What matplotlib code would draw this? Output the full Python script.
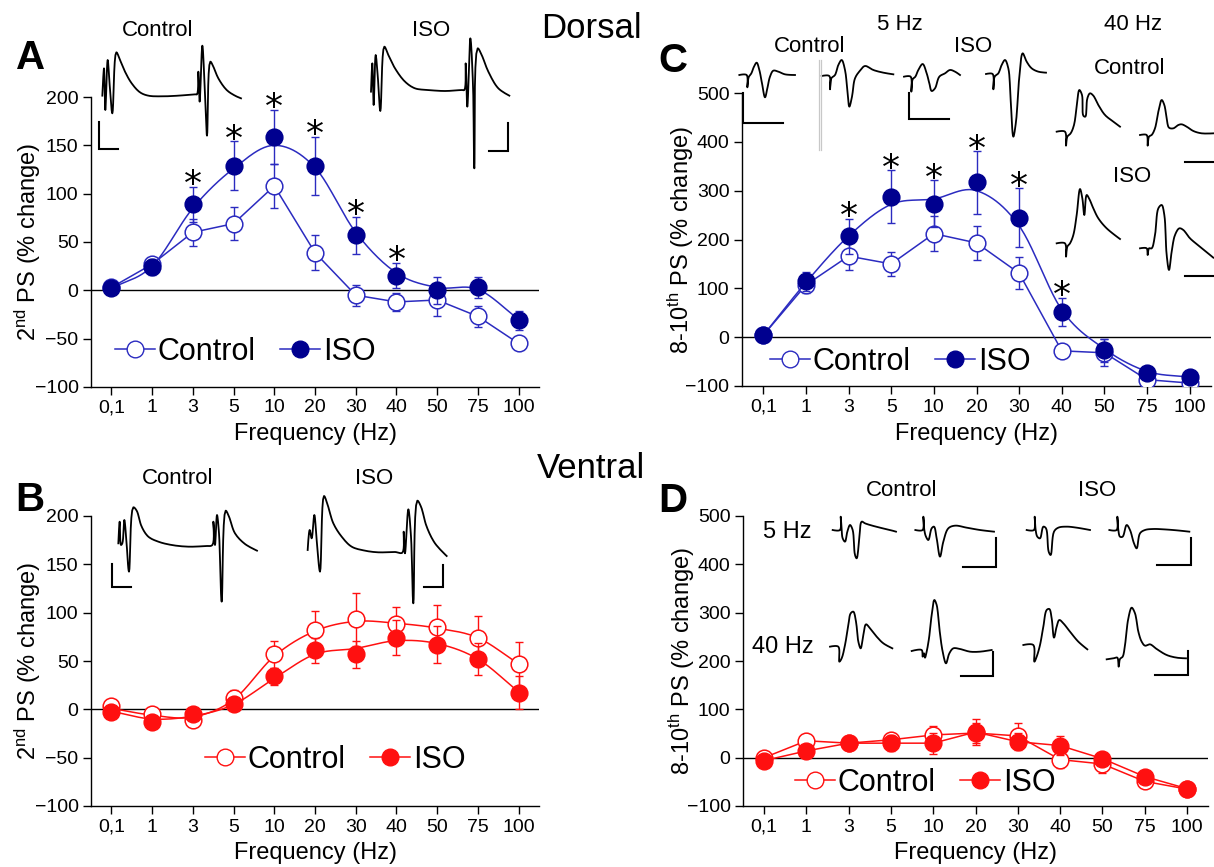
import numpy as np
import matplotlib
matplotlib.use("Agg")
import matplotlib.pyplot as plt
from matplotlib.lines import Line2D

plt.rcParams['font.family'] = ['Liberation Sans', 'DejaVu Sans']
plt.rcParams['mathtext.fontset'] = 'custom'
plt.rcParams['mathtext.rm'] = 'Liberation Sans'
plt.rcParams['mathtext.it'] = 'Liberation Sans'

W, H = 1214, 867

# ---------------- data ----------------
freq_labels = ['0,1', '1', '3', '5', '10', '20', '30', '40', '50', '75', '100']

# Panel A (Dorsal, 2nd PS)
a_ctrl = [3, 27, 60, 69, 108, 39, -5, -12, -10, -27, -55]
a_ctrl_err = [4, 6, 14, 17, 23, 18, 11, 9, 17, 11, 6]
a_iso = [2, 24, 89, 129, 159, 129, 57, 15, 0, 3, -31]
a_iso_err = [4, 8, 18, 25, 28, 30, 19, 13, 14, 11, 10]
a_iso_fit = [2, 25, 85, 126, 150, 127, 60, 18, 3, 1, -30]
a_stars = [2, 3, 4, 5, 6, 7]

# Panel B (Ventral, 2nd PS)
b_ctrl = [3, -5, -11, 12, 57, 82, 93, 88, 85, 74, 47]
b_ctrl_err = [5, 5, 5, 8, 14, 20, 27, 18, 23, 23, 23]
b_ctrl_fit = [1, -6, -8, 10, 55, 81, 91, 89, 84, 74, 47]
b_iso = [-3, -13, -5, 5, 34, 61, 57, 74, 67, 52, 17]
b_iso_err = [4, 4, 5, 4, 9, 13, 14, 18, 19, 17, 17]
b_iso_fit = [-2, -10, -7, 5, 32, 57, 63, 71, 68, 52, 18]

# Panel C (Dorsal, 8-10th PS)
c_ctrl = [4, 107, 166, 150, 212, 193, 131, -28, -32, -87, -94]
c_ctrl_err = [5, 17, 28, 24, 36, 34, 33, 6, 28, 8, 6]
c_iso = [4, 114, 207, 288, 273, 317, 245, 52, -27, -73, -82]
c_iso_err = [5, 20, 36, 54, 48, 64, 60, 29, 23, 8, 6]
c_iso_fit = [4, 112, 207, 272, 283, 300, 228, 56, -24, -70, -82]
c_stars = [2, 3, 4, 5, 6, 7]

# Panel D (Ventral, 8-10th PS)
d_ctrl = [0, 35, 30, 37, 47, 51, 45, -4, -13, -49, -65]
d_ctrl_err = [4, 8, 5, 14, 18, 20, 26, 18, 19, 8, 4]
d_iso = [-6, 14, 30, 30, 30, 53, 33, 25, -2, -39, -64]
d_iso_err = [4, 6, 5, 16, 22, 27, 18, 19, 6, 6, 4]

# ---------------- example traces (local zoom units, 1/3 px) ----------------
tr_a_ctrl = [(22,182),(27,100),(31,225),(38,75),(44,150),(52,235),(64,52),(75,75),(90,110),(110,145),(135,172),(160,182),(200,184),(250,182),(300,178),(306,178),(310,110),(314,200),(322,32),(330,180),(336,302),(346,80),(355,95),(370,130),(395,165),(420,182),(438,190)]
tr_a_iso = [(828,170),(832,85),(836,210),(842,60),(848,120),(856,228),(868,35),(880,60),(900,100),(930,140),(960,160),(1000,165),(1050,168),(1100,165),(1108,165),(1112,85),(1117,215),(1126,10),(1134,150),(1138,400),(1148,40),(1160,60),(1180,110),(1210,160),(1243,182)]
tr_b_ctrl = [(40,160),(44,95),(48,165),(52,160),(58,90),(64,150),(72,245),(85,52),(95,62),(110,110),(130,140),(160,155),(200,165),(250,170),(300,168),(322,165),(325,95),(330,165),(336,75),(342,130),(350,335),(362,62),(372,80),(390,130),(420,162),(456,182)]
tr_b_iso = [(608,180),(614,120),(620,145),(628,75),(635,150),(645,245),(657,18),(668,45),(685,100),(710,140),(740,170),(780,182),(820,187),(870,186),(892,188),(896,125),(900,190),(910,58),(918,140),(925,340),(937,32),(948,50),(965,110),(990,160),(1025,198)]
tr_c5_1 = [(28,75),(50,75),(52,112),(56,82),(64,70),(72,50),(80,38),(88,60),(96,100),(105,142),(112,115),(120,80),(130,62),(145,65),(165,73),(195,75)]
tr_c5_2 = [(275,78),(298,78),(300,118),(304,85),(315,75),(325,45),(335,30),(345,60),(352,120),(358,170),(366,140),(375,85),(390,62),(405,48),(430,60),(460,68),(490,73)]
tr_c5_3 = [(522,80),(542,80),(544,125),(548,88),(556,80),(565,60),(578,42),(590,70),(598,100),(605,123),(615,115),(628,80),(645,70),(660,60),(675,65),(690,75)]
tr_c5_4 = [(768,72),(788,72),(790,118),(794,80),(805,70),(815,45),(825,30),(835,55),(842,150),(850,260),(858,215),(868,80),(878,10),(890,35),(905,55),(925,65),(948,68)]
tr_c40_1 = [(20,170),(45,170),(48,212),(52,185),(62,175),(72,150),(80,95),(88,45),(96,60),(100,122),(106,125),(112,70),(120,55),(130,62),(145,90),(165,120),(190,140),(210,155)]
tr_c40_2 = [(270,180),(290,180),(293,212),(297,185),(305,180),(315,160),(325,110),(335,75),(343,90),(350,130),(357,158),(370,160),(385,150),(395,148),(410,155),(430,168),(455,175),(490,175)]
tr_c40_3 = [(20,505),(45,505),(48,545),(52,515),(60,505),(70,480),(80,420),(90,342),(97,370),(103,420),(110,360),(118,372),(130,400),(145,430),(170,460),(210,492)]
tr_c40_4 = [(270,520),(290,520),(293,540),(297,520),(305,520),(315,480),(325,400),(335,390),(343,420),(350,540),(357,585),(365,530),(375,480),(388,460),(400,465),(420,490),(450,515),(490,548)]
tr_d5_1 = [(8,75),(30,75),(32,35),(35,75),(38,100),(45,110),(52,80),(60,60),(68,75),(75,150),(80,160),(88,100),(95,50),(105,55),(120,60),(150,68),(180,75),(198,80)]
tr_d5_2 = [(256,75),(278,75),(280,35),(283,75),(288,95),(295,105),(305,70),(312,65),(320,100),(330,155),(340,110),(355,70),(375,62),(410,68),(450,75),(492,80)]
tr_d5_3 = [(590,75),(612,75),(614,35),(617,75),(622,95),(630,100),(640,65),(648,70),(656,140),(662,150),(672,80),(685,68),(710,65),(740,68),(780,75)]
tr_d5_4 = [(838,75),(860,75),(862,35),(865,75),(870,95),(878,95),(890,60),(900,75),(912,115),(920,130),(930,85),(945,75),(970,72),(1000,73),(1040,76),(1078,80)]
tr_d40_1 = [(0,425),(25,425),(28,470),(35,460),(45,420),(55,360),(62,325),(70,320),(78,350),(85,410),(92,430),(100,390),(108,358),(120,370),(140,395),(160,415),(187,430)]
tr_d40_2 = [(245,438),(275,435),(278,455),(282,445),(285,458),(290,440),(297,400),(305,330),(313,285),(320,300),(328,370),(338,440),(348,475),(358,445),(370,430),(390,432),(420,440),(450,440),(485,435)]
tr_d40_3 = [(580,420),(610,420),(613,470),(620,455),(630,420),(640,365),(650,315),(658,312),(665,340),(672,398),(680,365),(688,345),(700,355),(720,380),(745,410),(772,433)]
tr_d40_4 = [(830,463),(850,460),(862,458),(866,485),(870,462),(878,455),(885,420),(895,340),(905,308),(915,325),(925,380),(935,410),(945,422),(960,418),(980,432),(1010,450),(1040,458),(1068,460)]

# ---------------- styles ----------------
BLUE_LINE = '#2b2bc0'
BLUE_FILL = '#00008f'
RED = '#ff1010'

TICK_FS = 14
LABEL_FS = 17

fig = plt.figure(figsize=(W / 100, H / 100), dpi=100)

ov = fig.add_axes([0, 0, 1, 1], zorder=0)
ov.set_xlim(0, W)
ov.set_ylim(H, 0)
ov.axis('off')


def px_axes(l, t, r, b):
    ax = fig.add_axes([l / W, 1 - b / H, (r - l) / W, (b - t) / H], zorder=2)
    ax.patch.set_alpha(0)
    return ax


def smooth(vals, n=24):
    y = np.asarray(vals, float)
    x = np.arange(len(y), dtype=float)
    m = np.gradient(y)
    xs, ys = [], []
    for i in range(len(y) - 1):
        t = np.linspace(0, 1, n, endpoint=False)
        h00 = 2 * t**3 - 3 * t**2 + 1
        h10 = t**3 - 2 * t**2 + t
        h01 = -2 * t**3 + 3 * t**2
        h11 = t**3 - t**2
        ys.append(h00 * y[i] + h10 * m[i] + h01 * y[i + 1] + h11 * m[i + 1])
        xs.append(x[i] + t)
    xs.append([x[-1]])
    ys.append([y[-1]])
    return np.concatenate(xs), np.concatenate(ys)


def catmull(pts, n=8):
    """Centripetal Catmull-Rom through the trace points (rendering only)."""
    p = np.asarray(pts, float)
    p = np.vstack([p[0], p, p[-1]])
    out = [p[1]]
    for i in range(1, len(p) - 2):
        p0, p1, p2, p3 = p[i - 1], p[i], p[i + 1], p[i + 2]
        def tj(ti, a, b):
            d = np.hypot(*(b - a)) ** 0.5
            return ti + max(d, 1e-6)
        t0 = 0.0
        t1 = tj(t0, p0, p1)
        t2 = tj(t1, p1, p2)
        t3 = tj(t2, p2, p3)
        for t in np.linspace(t1, t2, n + 1)[1:]:
            a1 = (t1 - t) / (t1 - t0) * p0 + (t - t0) / (t1 - t0) * p1
            a2 = (t2 - t) / (t2 - t1) * p1 + (t - t1) / (t2 - t1) * p2
            a3 = (t3 - t) / (t3 - t2) * p2 + (t - t2) / (t3 - t2) * p3
            b1 = (t2 - t) / (t2 - t0) * a1 + (t - t0) / (t2 - t0) * a2
            b2 = (t3 - t) / (t3 - t1) * a2 + (t - t1) / (t3 - t1) * a3
            c = (t2 - t) / (t2 - t1) * b1 + (t - t1) / (t2 - t1) * b2
            out.append(c)
    return np.array(out)


def style_axes(ax, ymin, ymax, ystep):
    ax.set_xlim(-0.5, 10.5)
    ax.set_ylim(ymin, ymax)
    ax.set_yticks(np.arange(ymin, ymax + 1, ystep))
    ax.set_xticks(range(len(freq_labels)))
    ax.set_xticklabels(freq_labels)
    for s in ['top', 'right']:
        ax.spines[s].set_visible(False)
    for s in ['left', 'bottom']:
        ax.spines[s].set_linewidth(1.0)
    ax.tick_params(direction='out', length=6, width=1, labelsize=TICK_FS, pad=3)
    ax.axhline(0, color='black', lw=1.0, zorder=1)
    ax.set_xlabel('Frequency (Hz)', fontsize=LABEL_FS)
    ax.xaxis.set_label_coords(0.5, -0.125)


def plot_series(ax, vals, err, line, face, edge, fit=None, straight=False, z=3):
    x = np.arange(len(vals))
    if fit is not None:
        sx, sy = smooth(fit)
        ax.plot(sx, sy, color=line, lw=1.1, zorder=z)
    elif straight:
        ax.plot(x, vals, color=line, lw=1.1, zorder=z)
    ax.errorbar(x, vals, yerr=err, fmt='none', ecolor=line, elinewidth=1.0,
                capsize=3, capthick=1.0, zorder=z)
    ax.plot(x, vals, 'o', ms=12, mfc=face, mec=edge, mew=1.1, zorder=z + 0.5,
            linestyle='none')


def add_legend(ax, line, ctrl_face, iso_face, edge, iso_edge, bx, by):
    h1 = Line2D([], [], color=line, lw=1.1, marker='o', ms=12, mfc=ctrl_face, mec=edge)
    h2 = Line2D([], [], color=line, lw=1.1, marker='o', ms=12, mfc=iso_face, mec=iso_edge)
    ax.legend([h1, h2], ['Control', 'ISO'], loc='center left',
              bbox_to_anchor=(bx / W, 1 - by / H), bbox_transform=fig.transFigure,
              ncol=2, frameon=False, fontsize=22, handlelength=1.3,
              handletextpad=0.1, columnspacing=0.8, borderaxespad=0, borderpad=0)


def add_stars(ax, vals, err, idx, off):
    for i in idx:
        ax.text(i, vals[i] + err[i] + off, '*', ha='center', va='center',
                fontsize=26, family='DejaVu Sans', zorder=6)


# ---------- Panel A ----------
axA = px_axes(91, 97, 539, 387)
style_axes(axA, -100, 200, 50)
plot_series(axA, a_ctrl, a_ctrl_err, BLUE_LINE, 'white', BLUE_LINE, straight=True, z=3)
plot_series(axA, a_iso, a_iso_err, BLUE_LINE, BLUE_FILL, BLUE_FILL, fit=a_iso_fit, z=4)
add_stars(axA, a_iso, a_iso_err, a_stars, 2)
axA.set_ylabel('2$^{\\mathrm{nd}}$ PS (% change)', fontsize=LABEL_FS)
axA.yaxis.set_label_coords(-0.108, 0.5)
add_legend(axA, BLUE_LINE, 'white', BLUE_FILL, BLUE_LINE, BLUE_FILL, 115, 352)

# ---------- Panel B ----------
axB = px_axes(91, 516, 539, 806)
style_axes(axB, -100, 200, 50)
plot_series(axB, b_ctrl, b_ctrl_err, RED, 'white', RED, fit=b_ctrl_fit, z=3)
plot_series(axB, b_iso, b_iso_err, RED, RED, RED, fit=b_iso_fit, z=4)
axB.set_ylabel('2$^{\\mathrm{nd}}$ PS (% change)', fontsize=LABEL_FS)
axB.yaxis.set_label_coords(-0.108, 0.5)
add_legend(axB, RED, 'white', RED, RED, RED, 205, 760)

# ---------- Panel C ----------
axC = px_axes(742, 93, 1211, 386)
style_axes(axC, -100, 500, 100)
plot_series(axC, c_ctrl, c_ctrl_err, BLUE_LINE, 'white', BLUE_LINE, straight=True, z=3)
plot_series(axC, c_iso, c_iso_err, BLUE_LINE, BLUE_FILL, BLUE_FILL, fit=c_iso_fit, z=4)
add_stars(axC, c_iso, c_iso_err, c_stars, 3)
axC.set_ylabel('8-10$^{\\mathrm{th}}$ PS (% change)', fontsize=LABEL_FS)
axC.yaxis.set_label_coords(-0.098, 0.5)
add_legend(axC, BLUE_LINE, 'white', BLUE_FILL, BLUE_LINE, BLUE_FILL, 770, 362)

# ---------- Panel D ----------
axD = px_axes(743, 516, 1208, 806)
style_axes(axD, -100, 500, 100)
plot_series(axD, d_ctrl, d_ctrl_err, RED, 'white', RED, straight=True, z=3)
plot_series(axD, d_iso, d_iso_err, RED, RED, RED, straight=True, z=4)
axD.set_ylabel('8-10$^{\\mathrm{th}}$ PS (% change)', fontsize=LABEL_FS)
axD.yaxis.set_label_coords(-0.099, 0.5)
add_legend(axD, RED, 'white', RED, RED, RED, 795, 783)

# ---------- traces ----------
def draw_trace(pts, ox, oy, lw=1.3):
    c = catmull(pts)
    ov.plot(ox + c[:, 0] / 3, oy + c[:, 1] / 3, color='black', lw=lw,
            solid_joinstyle='round')


def bar(x0, y0, x1, y1, x2, y2, lw=1.5):
    ov.plot([x0, x1, x2], [y0, y1, y2], color='black', lw=lw, solid_joinstyle='miter')


draw_trace(tr_a_ctrl, 95, 35)
draw_trace(tr_a_iso, 95, 35)
bar(99, 122, 99, 149, 118, 149)
bar(489, 151, 508, 151, 508, 123)

draw_trace(tr_b_ctrl, 105, 490)
draw_trace(tr_b_iso, 105, 490)
bar(112, 564, 112, 587, 131, 587)
bar(424, 587, 443, 587, 443, 565)

for t in (tr_c5_1, tr_c5_2, tr_c5_3, tr_c5_4):
    draw_trace(t, 730, 50)
ov.plot([819.3, 819.3], [60, 150], color='#c8c8c8', lw=0.9)
ov.plot([821.0, 821.0], [60, 150], color='#c8c8c8', lw=0.9)
bar(743, 93, 743, 123, 783, 123)
bar(909, 93, 909, 119, 949, 119)

for t in (tr_c40_1, tr_c40_2, tr_c40_3, tr_c40_4):
    draw_trace(t, 1050, 75)
ov.plot([1185, 1214], [162, 162], color='black', lw=1.5)
ov.plot([1185, 1214], [276, 276], color='black', lw=1.5)

for t in (tr_d5_1, tr_d5_2, tr_d5_3, tr_d5_4, tr_d40_1, tr_d40_2, tr_d40_3, tr_d40_4):
    draw_trace(t, 830, 505)
bar(963, 567, 996, 567, 996, 538)
bar(1157, 565, 1191, 565, 1191, 538)
bar(961, 676, 993, 676, 993, 652)
bar(1155, 675, 1188, 675, 1188, 651)

# ---------- texts ----------
def txt(x, y, s, size, weight='normal'):
    ov.text(x, y, s, ha='center', va='center', fontsize=size, fontweight=weight)


txt(31, 58, 'A', 29, 'bold')
txt(30, 500, 'B', 29, 'bold')
txt(673, 61, 'C', 29, 'bold')
txt(673, 501, 'D', 29, 'bold')
txt(591, 29, 'Dorsal', 25)
txt(591, 468, 'Ventral', 25)

txt(158, 31, 'Control', 16)
txt(431, 31, 'ISO', 16)
txt(178, 479, 'Control', 16)
txt(374, 479, 'ISO', 16)

txt(900, 24, '5 Hz', 16)
txt(1133, 25, '40 Hz', 16)
txt(810, 46, 'Control', 16)
txt(973, 46, 'ISO', 16)
txt(1130, 69, 'Control', 16)
txt(1132, 176, 'ISO', 16)

txt(902, 490, 'Control', 16)
txt(1097, 490, 'ISO', 16)
txt(787, 532, '5 Hz', 17)
txt(783, 647, '40 Hz', 17)

fig.savefig('out.png', dpi=100)
